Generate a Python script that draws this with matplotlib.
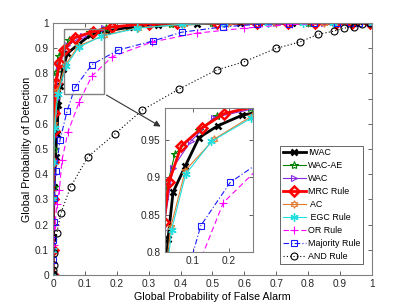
import matplotlib
matplotlib.use('Agg')
import matplotlib.pyplot as plt
from matplotlib.patches import Rectangle

plt.rcParams['font.family'] = ['Liberation Sans', 'DejaVu Sans']

# ROC points (Pf, Pd)
iwac_x = [0, 0.001, 0.003, 0.008, 0.012, 0.017, 0.022, 0.031, 0.045, 0.079, 0.117, 0.17, 0.237, 0.33, 0.45, 0.586, 0.75, 0.944, 1]
iwac_y = [0, 0.15, 0.35, 0.47, 0.56, 0.675, 0.75, 0.818, 0.88, 0.915, 0.953, 0.969, 0.983, 0.992, 0.998, 1, 1, 1, 1]

wacae_x = [0, 0.001, 0.002, 0.003, 0.005, 0.01, 0.019, 0.05, 0.117, 0.166, 0.26, 0.37, 0.5, 0.65, 0.8, 1]
wacae_y = [0, 0.2, 0.35, 0.5, 0.7, 0.807, 0.87, 0.931, 0.963, 0.982, 0.993, 0.998, 1, 1, 1, 1]

wac_x = [0, 0.001, 0.002, 0.004, 0.008, 0.018, 0.045, 0.094, 0.159, 0.3, 0.42, 0.55, 0.7, 0.85, 1]
wac_y = [0, 0.2, 0.4, 0.55, 0.7, 0.83, 0.913, 0.948, 0.98, 0.995, 1, 1, 1, 1, 1]

mrc_x = [0, 0, 0.001, 0.001, 0.002, 0.004, 0.009, 0.02, 0.033, 0.068, 0.125, 0.186, 0.3, 0.39, 0.513, 0.64, 0.737, 0.82, 0.887, 0.936, 0.995]
mrc_y = [0, 0.1, 0.3, 0.45, 0.57, 0.644, 0.763, 0.84, 0.893, 0.942, 0.966, 0.985, 0.998, 1, 1, 1, 1, 1, 1, 1, 1]

ac_x = [0, 0.0005, 0.001, 0.002, 0.004, 0.013, 0.039, 0.079, 0.159, 0.265, 0.41, 0.55, 0.7, 0.85, 1]
ac_y = [0, 0.1, 0.3, 0.45, 0.6, 0.73, 0.834, 0.909, 0.951, 0.982, 0.996, 1, 1, 1, 1]

egc_x = [0, 0.0005, 0.001, 0.002, 0.005, 0.015, 0.041, 0.08, 0.152, 0.262, 0.403, 0.536, 0.674, 0.784, 0.877, 1]
egc_y = [0, 0.1, 0.3, 0.45, 0.582, 0.717, 0.83, 0.904, 0.948, 0.979, 0.995, 0.999, 1, 1, 1, 1]

or_x = [0, 0.001, 0.003, 0.006, 0.012, 0.02, 0.028, 0.047, 0.082, 0.122, 0.185, 0.31, 0.45, 0.6, 0.75, 0.9, 1]
or_y = [0, 0.05, 0.12, 0.2, 0.28, 0.337, 0.456, 0.568, 0.687, 0.79, 0.866, 0.925, 0.96, 0.98, 0.995, 1, 1]

maj_x = [0, 0.0005, 0.001, 0.002, 0.003, 0.009, 0.022, 0.044, 0.069, 0.122, 0.204, 0.313, 0.404, 0.533, 0.64, 0.74, 0.818, 0.89, 0.93, 0.96, 0.995]
maj_y = [0, 0.06, 0.14, 0.21, 0.306, 0.413, 0.536, 0.65, 0.745, 0.835, 0.893, 0.929, 0.964, 0.985, 0.995, 0.998, 1, 1, 1, 1, 1]

and_x = [0, 0, 0.001, 0.002, 0.003, 0.012, 0.025, 0.055, 0.11, 0.194, 0.28, 0.395, 0.513, 0.598, 0.70, 0.774, 0.83, 0.88, 0.913, 0.943, 0.97, 0.995]
and_y = [0, 0.005, 0.02, 0.04, 0.087, 0.167, 0.247, 0.35, 0.47, 0.56, 0.655, 0.738, 0.814, 0.846, 0.90, 0.925, 0.955, 0.968, 0.98, 0.985, 0.995, 1.0]

labels = ['IWAC', 'WAC-AE', 'WAC', 'MRC Rule', ' AC', ' EGC Rule', 'OR Rule', 'Majority Rule', 'AND Rule']

series = [
    (iwac_x, iwac_y, dict(color='k', lw=2.0, marker='x', ms=4.5, mew=1.8)),
    (wacae_x, wacae_y, dict(color='#008000', lw=0.8, marker='*', ms=6, mfc='none', mew=0.8)),
    (wac_x, wac_y, dict(color='#8a2be2', lw=0.8, marker='>', ms=4.5, mfc='none', mew=0.8)),
    (mrc_x, mrc_y, dict(color='#ff0000', lw=2.0, marker='D', ms=5, mfc='none', mew=1.8)),
    (ac_x, ac_y, dict(color='#e07a30', lw=0.8, marker=(6, 1, 0), ms=5.5, mfc='none', mew=0.8)),
    (egc_x, egc_y, dict(color='#22dede', lw=0.8, marker=(6, 2, 0), ms=6, mew=1.0)),
    (or_x, or_y, dict(color='#ff00ff', lw=0.8, ls=(0, (5, 3)), marker='+', ms=6, mew=0.8)),
    (maj_x, maj_y, dict(color='#1a1aff', lw=0.8, ls=(0, (5, 2, 1, 2)), marker='s', ms=4.5, mfc='none', mew=0.8)),
    (and_x, and_y, dict(color='k', lw=0.8, ls=(0, (1, 2)), marker='o', ms=5, mfc='none', mew=0.8)),
]

fig = plt.figure(figsize=(4.11, 3.08), dpi=100)
ax = fig.add_axes([0.129, 0.107, 0.776, 0.818])

for (xs, ys, st), lab in zip(series, labels):
    ax.plot(xs, ys, label=lab, **st)

ticks = [i / 10 for i in range(11)]
ticklabels = ['0'] + ['%.1f' % t for t in ticks[1:-1]] + ['1']
ax.set_xlim(0, 1)
ax.set_ylim(0, 1)
ax.set_xticks(ticks)
ax.set_xticklabels(ticklabels)
ax.set_yticks(ticks)
ax.set_yticklabels(ticklabels)
ax.tick_params(direction='in', top=True, right=True, labelsize=7.3, length=3, width=0.5, colors='0.15', pad=3)
for s in ax.spines.values():
    s.set_color('0.5')
    s.set_linewidth(0.8)
ax.set_xlabel('Global Probability of False Alarm', fontsize=7.7, labelpad=2)
ax.set_ylabel('Global Probability of Detection', fontsize=7.7, labelpad=2)

# zoom rectangle
ax.add_patch(Rectangle((0.035, 0.72), 0.125, 0.255, fill=False, ec='0.5', lw=1.0, zorder=5))

# inset
axins = fig.add_axes([0.401, 0.182, 0.214, 0.468])
for (xs, ys, st), lab in zip(series, labels):
    axins.plot(xs, ys, **st)
axins.set_xlim(0.022, 0.267)
axins.set_ylim(0.8, 0.993)
axins.set_xticks([0.1, 0.2])
axins.set_xticklabels(['0.1', '0.2'])
axins.set_yticks([0.8, 0.85, 0.9, 0.95])
axins.set_yticklabels(['0.8', '0.85', '0.9', '0.95'])
axins.tick_params(direction='in', top=True, right=True, labelsize=7.3, length=3, width=0.5, colors='0.15', pad=3)
for s in axins.spines.values():
    s.set_color('0.5')
    s.set_linewidth(0.8)

ax.annotate('', xy=(-0.02, 0.86), xycoords=axins.transAxes,
            xytext=(0.16, 0.72), textcoords='data',
            arrowprops=dict(arrowstyle='-|>', color='0.2', lw=0.8, mutation_scale=9))

leg = ax.legend(loc='lower left', bbox_to_anchor=(0.681, 0.143, 0.202, 0.36),
                bbox_transform=fig.transFigure, mode='expand', fontsize=6.4,
                handlelength=2.6, handletextpad=0.3, borderpad=0.3, labelspacing=0.45,
                fancybox=False, framealpha=1, borderaxespad=0)
leg.get_frame().set_edgecolor('0.3')
leg.get_frame().set_linewidth(0.6)

fig.savefig('out.png', dpi=100)
